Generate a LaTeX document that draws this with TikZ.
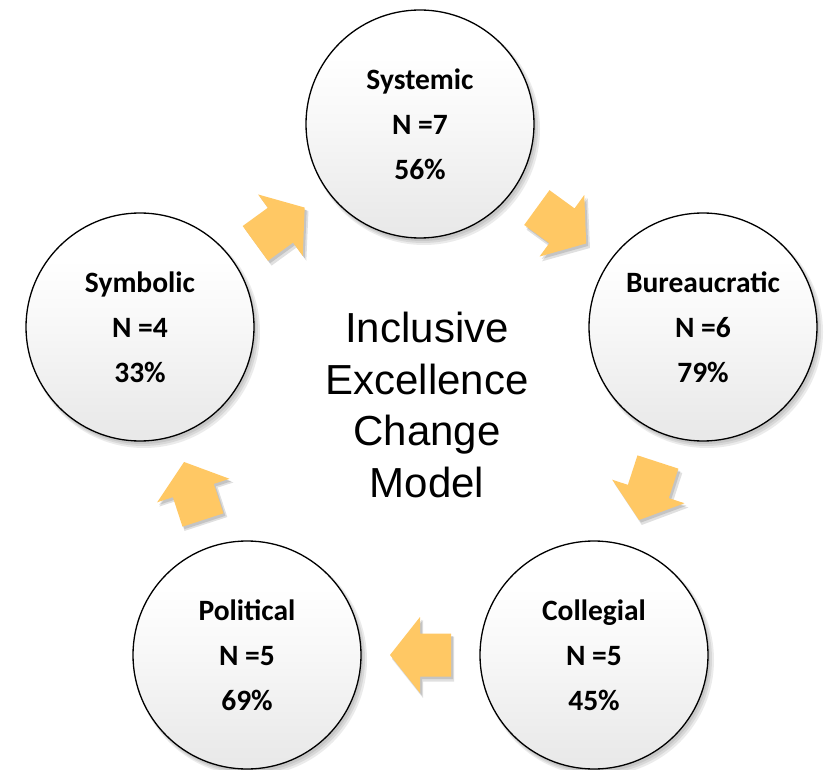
\documentclass[tikz,border=0pt]{standalone}
\usepackage{fontspec}
\setmainfont{Carlito}
\newfontfamily\arialfont{Liberation Sans}
\usetikzlibrary{calc}
\definecolor{arrowfill}{RGB}{255,200,100}
\pgfdeclareverticalshading{circshade}{100bp}{color(0bp)=(black!13); color(30bp)=(black!8); color(50bp)=(black!3); color(65bp)=(white); color(100bp)=(white)}
\begin{document}
\begin{tikzpicture}[x=1pt,y=-1pt,
  circ/.style={circle, draw=black, line width=1.3pt, minimum size=228pt, inner sep=0pt,
    shading=circshade, align=center,
    font=\bfseries\fontsize{29.5}{45}\selectfont},
  circshadow/.style={fill=black, opacity=0.08},
  arrowshadow/.style={fill=black, opacity=0.12},
  arrowbody/.style={fill=arrowfill}
]
\useasboundingbox[fill=white] (0,0) rectangle (828,770);

% circle centres
\coordinate (csys) at (420,124);
\coordinate (cbur) at (703,327);
\coordinate (ccol) at (594,655);
\coordinate (cpol) at (247,655);
\coordinate (csym) at (140,327);

% shadows of circles
\foreach \c in {csys,cbur,ccol,cpol,csym}{
  \fill[circshadow] ($(\c)+(4,5)$) circle (116);
  \fill[circshadow] ($(\c)+(3,4)$) circle (115);
  \fill[circshadow] ($(\c)+(2,3)$) circle (114);
}

\node[circ] (sys) at (csys) {Systemic\\N =7\\56\%};
\node[circ] (bur) at (cbur) {Bureaucratic\\N =6\\79\%};
\node[circ] (col) at (ccol) {Collegial\\N =5\\45\%};
\node[circ] (pol) at (cpol) {Political\\N =5\\69\%};
\node[circ] (sym) at (csym) {Symbolic\\N =4\\33\%};

\node[font=\arialfont\fontsize{42}{51.7}\selectfont, align=center] (title) at (427,405)
  {Inclusive\\Excellence\\Change\\Model};

% block arrows between circles
\foreach \a/\b/\ang in {sym/sys/36, sys/bur/-36, bur/col/-108, col/pol/180, pol/sym/108}{
  \begin{scope}[shift={($(\a.center)!.5!(\b.center)$)}]
    \begin{scope}[shift={(3,4)}, rotate=\ang]
      \fill[arrowshadow] (-30.5,-22.5) -- (0.5,-22.5) -- (0.5,-39) -- (31.5,0) -- (0.5,39) -- (0.5,22.5) -- (-30.5,22.5) -- cycle;
    \end{scope}
    \begin{scope}[shift={(2,2.5)}, rotate=\ang]
      \fill[arrowshadow] (-30.5,-21.5) -- (0.5,-21.5) -- (0.5,-38) -- (30.5,0) -- (0.5,38) -- (0.5,21.5) -- (-30.5,21.5) -- cycle;
    \end{scope}
    \begin{scope}[rotate=\ang]
      \fill[arrowbody] (-30.5,-21.5) -- (0.5,-21.5) -- (0.5,-38) -- (30.5,0) -- (0.5,38) -- (0.5,21.5) -- (-30.5,21.5) -- cycle;
    \end{scope}
  \end{scope}
}
\end{tikzpicture}
\end{document}
